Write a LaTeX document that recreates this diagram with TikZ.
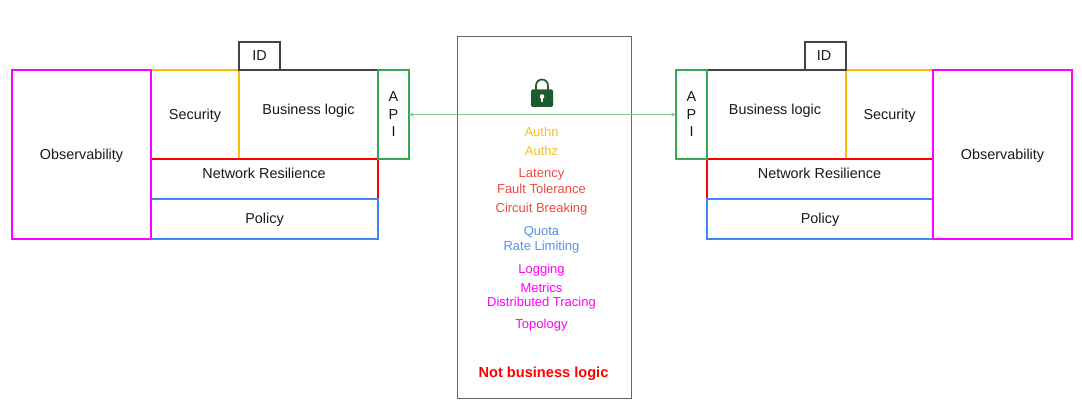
\documentclass[tikz,border=0pt]{standalone}
\usepackage{fontspec}
\setmainfont{Liberation Sans}
\usetikzlibrary{arrows.meta}
\definecolor{cMag}{HTML}{FF00FF}
\definecolor{cYel}{HTML}{FBBC04}
\definecolor{cRed}{HTML}{FF0000}
\definecolor{cBlue}{HTML}{4285F4}
\definecolor{cGreen}{HTML}{34A853}
\definecolor{cDark}{HTML}{434343}
\definecolor{cGray}{HTML}{666666}
\definecolor{cLink}{HTML}{7FC68F}
\definecolor{cLock}{HTML}{1E5C30}
\definecolor{tYel}{HTML}{F9BF24}
\definecolor{tRed}{HTML}{EE4B3E}
\definecolor{tBlue}{HTML}{5390F0}
\tikzset{
  bx/.style n args={3}{draw=#3,line width=1.5pt,fill=none,inner sep=0pt,outer sep=0pt,
    minimum width=#1*0.75pt,minimum height=#2*0.75pt,align=center,
    font=\fontsize{10.8}{13.1}\selectfont,text=black!90},
  sl/.style={text height=9.3pt,text depth=2pt},
  lbl/.style={inner sep=0pt,font=\fontsize{10.8}{13.1}\selectfont,text=black!90,sl},
  mid/.style={inner sep=0pt,font=\fontsize{9.75}{12}\selectfont,text=#1,text height=8.9pt,text depth=1.9pt},
}
\begin{document}
\begin{tikzpicture}[x=0.75pt,y=-0.75pt]
\useasboundingbox (0,0) rectangle (1082,406);
\fill[white] (0,0) rectangle (1082,406);
% centre panel
\node[draw=cGray,line width=0.75pt,minimum width=174*0.75pt,minimum height=361*0.75pt,inner sep=0pt,outer sep=0pt] (panel) at (544.5,217.5) {};
% left stack
\node[bx={139}{89}{cDark}] (bizL) at (308.5,114.5) {};
\node[bx={88}{89}{cYel},sl] (secL) at (195,114.5) {Security};
\node[bx={227}{40}{cRed}] (netL) at (264.5,179) {};
\node[bx={227}{40}{cBlue},text height=8.6pt,text depth=2pt] (polL) at (264.5,219) {Policy};
\node[bx={31}{89}{cGreen}] (apiL) at (393.5,114.5) {A\\P\\I};
\node[bx={139}{169}{cMag},sl] (obsL) at (81.5,154.5) {Observability};
\node[bx={41}{28}{cDark},sl] (idL) at (259.5,56) {ID};
\node[lbl] (bizTextL) at (308.5,109.2) {Business logic};
\node[lbl] (netTextL) at (264,174) {Network Resilience};
% right stack
\node[bx={139}{89}{cDark}] (bizR) at (776.5,114.5) {};
\node[bx={87}{89}{cYel},sl] (secR) at (889.5,114.5) {Security};
\node[bx={226}{40}{cRed}] (netR) at (820,179) {};
\node[bx={226}{40}{cBlue},text height=8.6pt,text depth=2pt] (polR) at (820,219) {Policy};
\node[bx={31}{89}{cGreen}] (apiR) at (691.5,114.5) {A\\P\\I};
\node[bx={139}{169}{cMag},sl] (obsR) at (1002.5,154.5) {Observability};
\node[bx={41}{28}{cDark},sl] (idR) at (825,56) {ID\hspace{1.5pt}};
\node[lbl] (bizTextR) at (775,109.2) {Business logic};
\node[lbl] (netTextR) at (819.5,174) {Network Resilience};
% link
\draw[cLink,line width=0.75pt,{Stealth[length=3.5pt,width=3pt]}-{Stealth[length=3.5pt,width=3pt]}] (apiL.east) -- (apiR.west);
% lock
\draw[cLock,line width=1.3pt] (536,91) -- (536,85.5) arc[start angle=180,end angle=360,radius=6] -- (548,91);
\fill[cLock,rounded corners=1pt] (531,89.5) rectangle (553,107);
\fill[white] (542,96.5) circle[radius=2.3];
\fill[white] (541,97) rectangle (543,102.5);
% centre texts
\node[mid=tYel] (t1) at (541.5,131.7) {Authn};
\node[mid=tYel] (t2) at (541.5,150.7) {Authz};
\node[mid=tRed] (t3) at (541.5,172.7) {Latency};
\node[mid=tRed] (t4) at (541.5,188.7) {Fault Tolerance};
\node[mid=tRed] (t5) at (541.5,207.7) {Circuit Breaking};
\node[mid=tBlue] (t6) at (541.5,231) {Quota};
\node[mid=tBlue] (t7) at (541.5,246) {Rate Limiting};
\node[mid=cMag] (t8) at (541.5,269.3) {Logging};
\node[mid=cMag] (t9) at (541.5,288) {Metrics};
\node[mid=cMag] (t10) at (541.5,302) {Distributed Tracing};
\node[mid=cMag] (t11) at (541.5,324.3) {Topology};
\node[inner sep=0pt,font=\fontsize{10.95}{13}\selectfont\bfseries,text=cRed,text height=8.9pt,text depth=1.9pt] (t12) at (543.5,372.7) {Not business logic};
\end{tikzpicture}
\end{document}
